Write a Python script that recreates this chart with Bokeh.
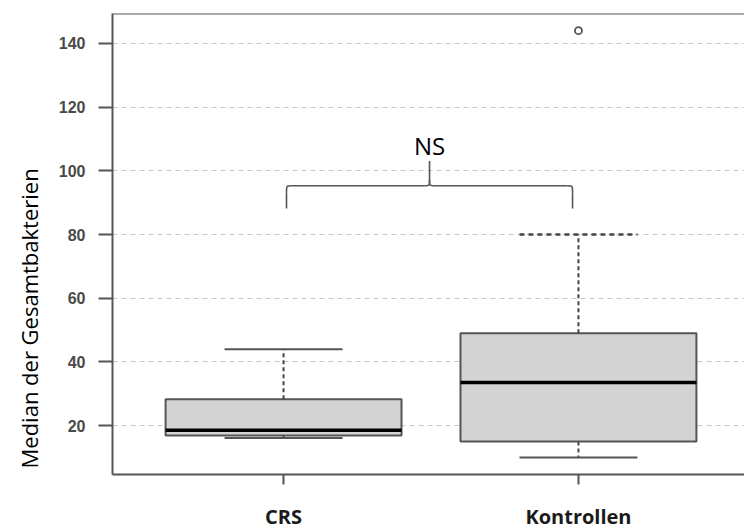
from bokeh.plotting import figure
from bokeh.models import Range1d, FixedTicker, Span, Title
from bokeh.core.properties import value
from bokeh.embed import file_html
from bokeh.resources import INLINE

# ---- data ----
categories = ["CRS", "Kontrollen"]
positions = [1, 2]
q1 = [16.9, 15.0]
median = [18.5, 33.5]
q3 = [28.3, 49.0]
whisker_low = [16.1, 10.0]
whisker_high = [44.0, 80.0]
outlier_pos = [2]
outlier_val = [144.0]
y_ticks = [20, 40, 60, 80, 100, 120, 140]
y_title = "Median der Gesamtbakterien"

# significance bracket
bracket_from = 1.01
bracket_to = 1.98
bracket_foot = 88.2
bracket_arm = 95.3
bracket_peak = 103.1
bracket_label = "NS"
label_value = 107.8

box_width = 0.8
cap_width = 0.4

y_start, y_end = 4.64, 149.4
x_start, x_end = 0.42, 2.563

p = figure(width=744, height=532, output_backend="svg", toolbar_location=None,
           x_range=Range1d(x_start, x_end), y_range=Range1d(y_start, y_end),
           min_border_left=112, min_border_right=0, min_border_top=13, min_border_bottom=56)
p.outline_line_color = None
p.background_fill_color = "white"
p.border_fill_color = "white"

# grid
p.xgrid.grid_line_color = None
p.ygrid.ticker = FixedTicker(ticks=y_ticks)
p.ygrid.grid_line_color = "#c8c8c8"
p.ygrid.grid_line_dash = "5 4"
p.ygrid.grid_line_width = 1

# boxes
p.vbar(x=positions, width=box_width, bottom=q1, top=q3,
       fill_color="#d3d3d3", line_color="#555555", line_width=2)

lefts = [x - box_width / 2 for x in positions]
rights = [x + box_width / 2 for x in positions]
p.segment(x0=lefts, y0=median, x1=rights, y1=median, line_color="black", line_width=3.5)

# whiskers
p.segment(x0=positions, y0=q3, x1=positions, y1=whisker_high,
          line_color="#444444", line_width=2, line_dash="4 3")
p.segment(x0=positions, y0=q1, x1=positions, y1=whisker_low,
          line_color="#444444", line_width=2, line_dash="4 3")

cap_l = [x - cap_width / 2 for x in positions]
cap_r = [x + cap_width / 2 for x in positions]
p.segment(x0=cap_l[:1], y0=whisker_high[:1], x1=cap_r[:1], y1=whisker_high[:1],
          line_color="#555555", line_width=2)
p.segment(x0=cap_l[1:], y0=whisker_high[1:], x1=cap_r[1:], y1=whisker_high[1:],
          line_color="#444444", line_width=2.5, line_dash="5 4")
p.segment(x0=cap_l, y0=whisker_low, x1=cap_r, y1=whisker_low,
          line_color="#555555", line_width=2)

# outlier
p.scatter(x=outlier_pos, y=outlier_val, marker="circle", size=7,
          fill_color=None, line_color="#555555", line_width=1.8)

# bracket
mid = (bracket_from + bracket_to) / 2
r = 0.018
dy = 2.0
bc = "#555555"
bw = 1.6
p.segment(x0=[bracket_from, bracket_to], y0=[bracket_foot, bracket_foot],
          x1=[bracket_from, bracket_to], y1=[bracket_arm - dy, bracket_arm - dy],
          line_color=bc, line_width=bw)
p.bezier(x0=[bracket_from, bracket_to], y0=[bracket_arm - dy, bracket_arm - dy],
         x1=[bracket_from + r, bracket_to - r], y1=[bracket_arm, bracket_arm],
         cx0=[bracket_from, bracket_to], cy0=[bracket_arm, bracket_arm],
         cx1=[bracket_from, bracket_to], cy1=[bracket_arm, bracket_arm],
         line_color=bc, line_width=bw)
p.segment(x0=[bracket_from + r, mid + r], y0=[bracket_arm, bracket_arm],
          x1=[mid - r, bracket_to - r], y1=[bracket_arm, bracket_arm],
          line_color=bc, line_width=bw)
p.bezier(x0=[mid - r, mid + r], y0=[bracket_arm, bracket_arm],
         x1=[mid, mid], y1=[bracket_arm + dy, bracket_arm + dy],
         cx0=[mid, mid], cy0=[bracket_arm, bracket_arm],
         cx1=[mid, mid], cy1=[bracket_arm, bracket_arm],
         line_color=bc, line_width=bw)
p.segment(x0=[mid], y0=[bracket_arm + dy], x1=[mid], y1=[bracket_peak],
          line_color=bc, line_width=bw)
p.text(x=[mid], y=[label_value], text=[bracket_label], text_font=value("Open Sans"),
       text_font_size="24px", text_color="black", text_align="center", text_baseline="middle")

# top border of the frame
p.add_layout(Span(location=y_end, dimension="width", line_color="#555555", line_width=2))

# axes
p.yaxis.ticker = FixedTicker(ticks=y_ticks)
p.yaxis.axis_line_color = "#555555"
p.yaxis.axis_line_width = 2
p.yaxis.major_tick_line_color = "#555555"
p.yaxis.major_tick_line_width = 2
p.yaxis.major_tick_out = 14
p.yaxis.major_tick_in = 0
p.yaxis.minor_tick_line_color = None
p.yaxis.major_label_text_font = "Liberation Sans"
p.yaxis.major_label_text_font_style = "bold"
p.yaxis.major_label_text_font_size = "16px"
p.yaxis.major_label_text_color = "#4a4a4a"
p.yaxis.major_label_standoff = 13

# y title as a left-side Title, starting near the bottom of the frame like the reference
p.add_layout(Title(text=y_title, align="left", offset=6, standoff=23,
                   text_font="Open Sans", text_font_style="normal",
                   text_font_size="22px", text_color="#000000"), "left")

p.xaxis.ticker = FixedTicker(ticks=positions)
p.xaxis.major_label_overrides = {pos: cat for pos, cat in zip(positions, categories)}
p.xaxis.axis_line_color = "#555555"
p.xaxis.axis_line_width = 2
p.xaxis.major_tick_line_color = "#555555"
p.xaxis.major_tick_line_width = 2
p.xaxis.major_tick_out = 10
p.xaxis.major_tick_in = 0
p.xaxis.minor_tick_line_color = None
p.xaxis.major_label_text_font = "Open Sans"
p.xaxis.major_label_text_font_style = "bold"
p.xaxis.major_label_text_font_size = "20px"
p.xaxis.major_label_text_color = "#1a1a1a"
p.xaxis.major_label_standoff = 18

open("out.html", "w").write(file_html(p, INLINE))
